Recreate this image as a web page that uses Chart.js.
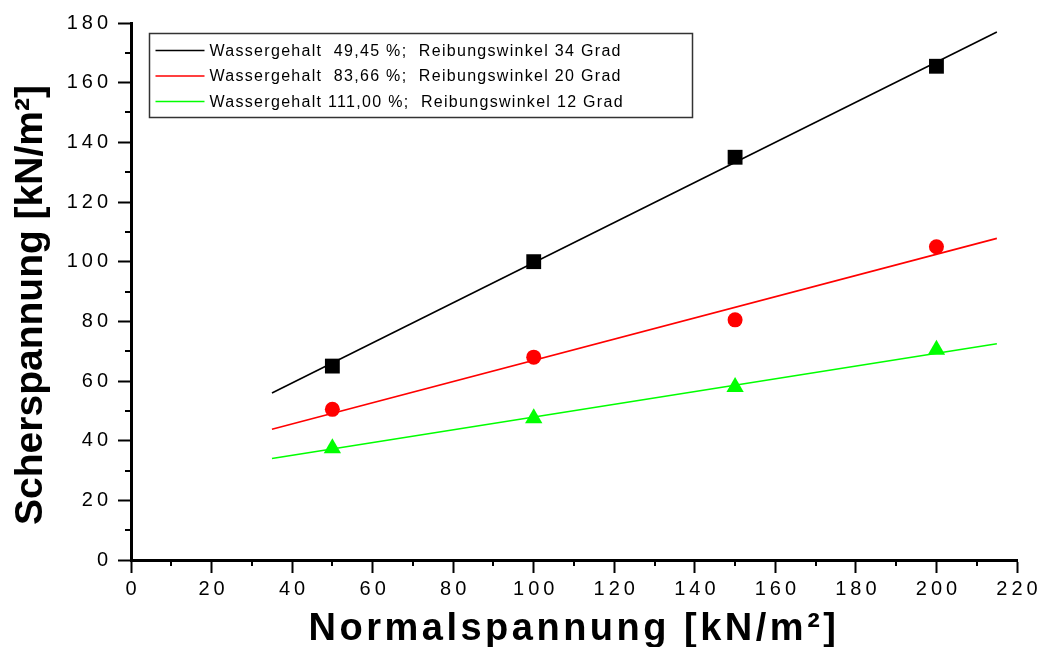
<!DOCTYPE html>
<html>
<head>
<meta charset="utf-8">
<script src="https://cdn.jsdelivr.net/npm/chart.js@4.4.1/dist/chart.umd.min.js"></script>
<style>
  html, body { margin: 0; padding: 0; background: #fff; }
  canvas { display: block; }
</style>
</head>
<body>
<canvas id="scherChart" width="1039" height="647"></canvas>
<script>
// Messwerte (Normalspannung / Scherspannung in kN/m²)
const normalspannung = [50, 100, 150, 200];
const scher_4945 = [65, 100, 135, 165.5];
const scher_8366 = [50.5, 68, 80.5, 105];
const scher_11100 = [37.5, 47.5, 58, 70.5];

// Ausgleichsgeraden (Anfang / Ende)
const fitX = [35, 215];
const fit_4945 = [56, 177];
const fit_8366 = [43.8, 107.8];
const fit_11100 = [34, 72.5];

const seriesLabels = [
    'Wassergehalt  49,45 %;  Reibungswinkel 34 Grad',
    'Wassergehalt  83,66 %;  Reibungswinkel 20 Grad',
    'Wassergehalt 111,00 %;  Reibungswinkel 12 Grad'
];
const seriesColors = ['#000000', '#ff0000', '#00ff00'];
const pointStyles = ['rect', 'circle', 'triangle'];
const pointRadii = [10.5, 7.5, 10];

const xTitle = 'Normalspannung [kN/m²]';
const yTitle = 'Scherspannung [kN/m²]';

const FONT = '"Liberation Sans", Arial, Helvetica, sans-serif';
const TICK_SPACING = 4;

const toPoints = (xs, ys) => xs.map((x, i) => ({ x: x, y: ys[i] }));

const fitSets = [fit_4945, fit_8366, fit_11100].map((ys, i) => ({
    label: seriesLabels[i],
    isFit: true,
    data: toPoints(fitX, ys),
    showLine: true,
    borderColor: seriesColors[i],
    borderWidth: 1.6,
    pointRadius: 0,
    order: 2
}));

const markerSets = [scher_4945, scher_8366, scher_11100].map((ys, i) => ({
    label: seriesLabels[i] + ' (Messwerte)',
    data: toPoints(normalspannung, ys),
    showLine: false,
    pointStyle: pointStyles[i],
    pointRadius: pointRadii[i],
    pointBackgroundColor: seriesColors[i],
    pointBorderColor: seriesColors[i],
    pointBorderWidth: 0,
    order: 1
}));

// Sperrung der Zahlen an den Achsen
const letterSpacingPlugin = {
    id: 'letterSpacing',
    beforeDraw(chart) { chart.ctx.letterSpacing = TICK_SPACING + 'px'; },
    afterDraw(chart) { chart.ctx.letterSpacing = '0px'; }
};

// kleine Zwischenstriche
const minorTicks = {
    id: 'minorTicks',
    afterDraw(chart) {
        const { ctx, scales: { x, y }, chartArea } = chart;
        ctx.save();
        ctx.strokeStyle = '#000';
        ctx.lineWidth = 2;
        ctx.beginPath();
        for (let v = 10; v < 220; v += 20) {
            const px = Math.round(x.getPixelForValue(v));
            ctx.moveTo(px, chartArea.bottom);
            ctx.lineTo(px, chartArea.bottom + 6);
        }
        for (let v = 10; v < 180; v += 20) {
            const py = Math.round(y.getPixelForValue(v));
            ctx.moveTo(chartArea.left, py);
            ctx.lineTo(chartArea.left - 6, py);
        }
        ctx.stroke();
        ctx.restore();
    }
};

const axisTitles = {
    id: 'axisTitles',
    afterDraw(chart) {
        const { ctx, chartArea } = chart;
        ctx.save();
        ctx.fillStyle = '#000';
        ctx.textBaseline = 'alphabetic';
        ctx.textAlign = 'center';

        ctx.font = 'bold 38px ' + FONT;
        ctx.letterSpacing = '3.5px';
        ctx.fillText(xTitle, (chartArea.left + chartArea.right) / 2, 640);

        ctx.letterSpacing = '0px';
        ctx.font = 'bold 39px ' + FONT;
        ctx.translate(42, 305);
        ctx.rotate(-Math.PI / 2);
        ctx.fillText(yTitle, 0, 0);
        ctx.restore();
    }
};

const legendBox = {
    id: 'legendBox',
    afterDraw(chart) {
        const { ctx, chartArea } = chart;
        const fits = chart.data.datasets.filter(d => d.isFit);
        const left = chartArea.left + 18.5, top = 33.5;
        ctx.save();
        ctx.strokeStyle = '#333';
        ctx.lineWidth = 1.5;
        ctx.strokeRect(left, top, 543, 84);
        ctx.font = '16px ' + FONT;
        ctx.letterSpacing = '1.3px';
        ctx.textBaseline = 'middle';
        ctx.textAlign = 'left';
        fits.forEach((ds, i) => {
            const yy = 50.5 + i * 25.5;
            ctx.strokeStyle = ds.borderColor;
            ctx.lineWidth = 1.6;
            ctx.beginPath();
            ctx.moveTo(left + 6, yy);
            ctx.lineTo(left + 55, yy);
            ctx.stroke();
            ctx.fillStyle = '#000';
            ctx.fillText(ds.label, left + 60, yy + 1);
        });
        ctx.restore();
    }
};

new Chart(document.getElementById('scherChart'), {
    type: 'scatter',
    data: { datasets: [...fitSets, ...markerSets] },
    options: {
        responsive: false,
        animation: false,
        devicePixelRatio: 1,
        layout: { padding: { top: 23, right: 22, left: 0, bottom: 0 } },
        plugins: { legend: { display: false }, tooltip: { enabled: false } },
        scales: {
            x: {
                type: 'linear', min: 0, max: 220,
                ticks: { stepSize: 20, color: '#000', padding: 4, maxRotation: 0, labelOffset: TICK_SPACING / 2, font: { family: FONT, size: 20 } },
                grid: { drawOnChartArea: false, tickLength: 13, tickWidth: 2, tickColor: '#000' },
                border: { color: '#000', width: 3 },
                afterFit: s => { s.height = 87; }
            },
            y: {
                type: 'linear', min: 0, max: 180,
                ticks: { stepSize: 20, color: '#000', padding: 6, font: { family: FONT, size: 20 } },
                grid: { drawOnChartArea: false, tickLength: 13, tickWidth: 2, tickColor: '#000' },
                border: { color: '#000', width: 3 },
                afterFit: s => { s.width = 131; }
            }
        }
    },
    plugins: [letterSpacingPlugin, minorTicks, axisTitles, legendBox]
});
</script>
</body>
</html>
